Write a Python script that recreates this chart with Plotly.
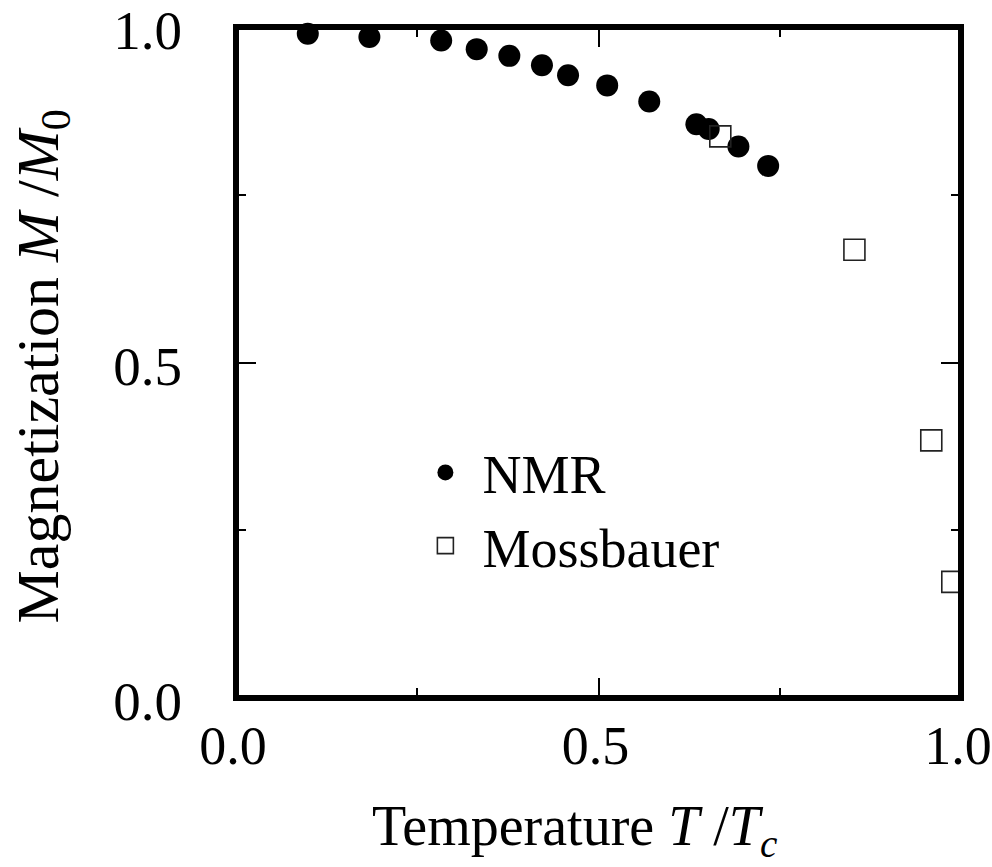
import plotly.graph_objects as go

# ---- data ----
nmr_t = [0.099, 0.184, 0.283, 0.332, 0.377, 0.422, 0.458, 0.512, 0.570, 0.635, 0.652, 0.693, 0.734]
nmr_m = [0.990, 0.985, 0.980, 0.967, 0.957, 0.943, 0.928, 0.913, 0.889, 0.855, 0.848, 0.822, 0.793]

moss_t = [0.668, 0.853, 0.959, 0.988]
moss_m = [0.837, 0.668, 0.384, 0.173]

tick_vals = [0.0, 0.5, 1.0]
tick_text = ["0.0", "0.5", "1.0"]
minor_vals = [0.25, 0.75]

FONT = "Liberation Serif"

fig = go.Figure()
fig.add_trace(go.Scatter(
    x=nmr_t, y=nmr_m, mode="markers", name="NMR",
    marker=dict(symbol="circle", size=22, color="black", line=dict(width=0)),
    cliponaxis=False,
))
fig.add_trace(go.Scatter(
    x=moss_t, y=moss_m, mode="markers", name="Mossbauer",
    marker=dict(symbol="square-open", size=21, color="#222222", line=dict(width=1.6, color="#222222")),
    cliponaxis=False,
))

axis_common = dict(
    range=[0, 1], showgrid=False, zeroline=False, showline=False,
    ticks="inside", ticklen=20, tickwidth=1.5, tickcolor="black",
    mirror="ticks", tickvals=tick_vals, ticktext=tick_text,
    ticklabeloverflow="allow",
    minor=dict(tickvals=minor_vals, ticks="inside", ticklen=10, tickwidth=1.5, tickcolor="black"),
    automargin=False, fixedrange=True,
)

W, H = 992, 867
L, R, T, B = 235.5, 31, 27, 168.7

fig.update_layout(
    width=W, height=H,
    margin=dict(l=L, r=R, t=T, b=B, pad=0),
    paper_bgcolor="white", plot_bgcolor="white",
    xaxis=dict(**axis_common, ticklabelstandoff=11, ticklabelshift=-3,
               tickfont=dict(family=FONT, size=54, color="black")),
    yaxis=dict(**axis_common, ticklabelstandoff=53, ticklabelshift=3,
               tickfont=dict(family=FONT, size=55, color="black")),
    showlegend=True,
    legend=dict(
        x=(408 - L) / (W - L - R), y=(698.3 - 431) / (H - T - B),
        xanchor="left", yanchor="top",
        bgcolor="rgba(0,0,0,0)", borderwidth=0,
        font=dict(family=FONT, size=54, color="black"),
        itemwidth=64, tracegroupgap=0,
    ),
    shapes=[dict(type="rect", xref="paper", yref="paper", x0=0, y0=0, x1=1, y1=1,
                 line=dict(color="black", width=6), layer="above")],
    annotations=[
        dict(text="Temperature <i>T</i> /<i>T</i><sub><i>c</i></sub>",
             xref="paper", yref="paper", x=(574 - L) / (W - L - R), y=(698.3 - 830) / (H - T - B),
             xanchor="center", yanchor="middle", showarrow=False,
             font=dict(family=FONT, size=56, color="black")),
        dict(text="Magnetization <i>M</i> /<i>M</i><sub>0</sub>",
             xref="paper", yref="paper", x=(42 - L) / (W - L - R), y=(698.3 - 367) / (H - T - B),
             xanchor="center", yanchor="middle", textangle=-90, showarrow=False,
             font=dict(family=FONT, size=60, color="black")),
    ],
)

fig.write_html("out.html")
